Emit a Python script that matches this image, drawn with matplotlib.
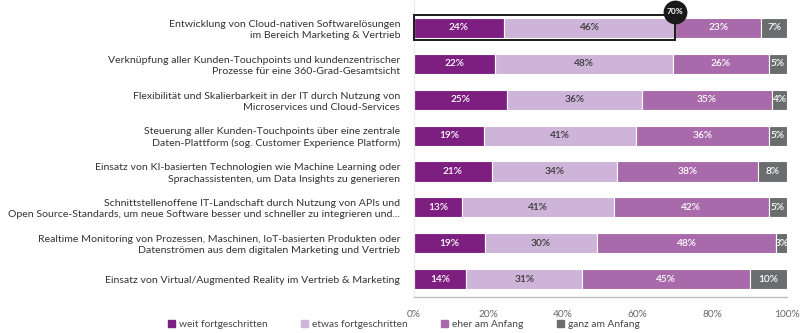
import matplotlib
matplotlib.use("Agg")
import matplotlib.pyplot as plt
from matplotlib.patches import Rectangle
import numpy as np

plt.rcParams['font.family'] = ['Lato', 'DejaVu Sans']

categories = [
    "Entwicklung von Cloud-nativen Softwarelösungen\nim Bereich Marketing & Vertrieb",
    "Verknüpfung aller Kunden-Touchpoints und kundenzentrischer\nProzesse für eine 360-Grad-Gesamtsicht",
    "Flexibilität und Skalierbarkeit in der IT durch Nutzung von\nMicroservices und Cloud-Services",
    "Steuerung aller Kunden-Touchpoints über eine zentrale\nDaten-Plattform (sog. Customer Experience Platform)",
    "Einsatz von KI-basierten Technologien wie Machine Learning oder\nSprachassistenten, um Data Insights zu generieren",
    "Schnittstellenoffene IT-Landschaft durch Nutzung von APIs und\nOpen Source-Standards, um neue Software besser und schneller zu integrieren und...",
    "Realtime Monitoring von Prozessen, Maschinen, IoT-basierten Produkten oder\nDatenströmen aus dem digitalen Marketing und Vertrieb",
    "Einsatz von Virtual/Augmented Reality im Vertrieb & Marketing",
]
weit = [24, 22, 25, 19, 21, 13, 19, 14]
etwas = [46, 48, 36, 41, 34, 41, 30, 31]
eher = [23, 26, 35, 36, 38, 42, 48, 45]
ganz = [7, 5, 4, 5, 8, 5, 3, 10]
series_names = ["weit fortgeschritten", "etwas fortgeschritten", "eher am Anfang", "ganz am Anfang"]
colors = ["#7d1f80", "#cfb4d9", "#a86aaa", "#6b6c6e"]
text_colors = ["white", "#3a3a3a", "white", "white"]
highlight_value = 70
xticks = [0, 20, 40, 60, 80, 100]

fig = plt.figure(figsize=(8, 3.33), dpi=100)
ax = fig.add_axes([0.5175, 0.108, 0.4665, 0.892])

n = len(categories)
y = np.arange(n)
data = np.array([weit, etwas, eher, ganz], dtype=float)
# rounded shares can sum to 101 -> scale each row to a full 100 % bar
widths = data / data.sum(axis=0) * 100
left = np.zeros(n)
bar_h = 0.56
for vals, w, col, tc in zip(data, widths, colors, text_colors):
    ax.barh(y, w, left=left, height=bar_h, color=col, edgecolor="white", linewidth=0.8)
    for yi, l, ww, v in zip(y, left, w, vals):
        ax.text(l + ww / 2, yi, f"{int(v)}%", ha="center", va="center",
                color=tc, fontsize=7.3, fontweight="semibold")
    left += w

# highlight box for the combined share of the first row
hx = widths[0][0] + widths[1][0]
ax.add_patch(Rectangle((0, -0.36), hx, 0.70, fill=False,
                       edgecolor="#1a1a1a", linewidth=1.4, zorder=5, clip_on=False))
ax.scatter([hx], [-0.45], s=260, color="#1a1a1a", zorder=6, clip_on=False)
ax.text(hx, -0.45, f"{highlight_value}%", ha="center", va="center",
        color="white", fontsize=6, fontweight="bold", zorder=7)

ax.set_xlim(0, 100)
ax.set_ylim(n - 0.5, -0.78)
ax.set_yticks(y)
ax.set_yticklabels(categories, fontsize=7.55, color="#333333", linespacing=1.3)
ax.set_xticks(xticks)
ax.set_xticklabels([f"{t}%" for t in xticks], fontsize=7.3, color="#666666")
ax.tick_params(axis="both", length=0)
ax.tick_params(axis="x", pad=9)
ax.tick_params(axis="y", pad=10)
for s in ["top", "right"]:
    ax.spines[s].set_visible(False)
ax.spines["left"].set_color("#ececec")
ax.spines["bottom"].set_color("#bdbdbd")
ax.spines["bottom"].set_linewidth(1.0)

handles = [Rectangle((0, 0), 1, 1, color=c) for c in colors]
fig.legend(handles, series_names, loc="lower left", bbox_to_anchor=(0.198, -0.015),
           ncol=4, frameon=False, handlelength=0.7, handleheight=0.7,
           handletextpad=0.4, columnspacing=3.3, labelcolor="#444444",
           prop={"size": 7.3})

fig.savefig("out.png", dpi=100)
